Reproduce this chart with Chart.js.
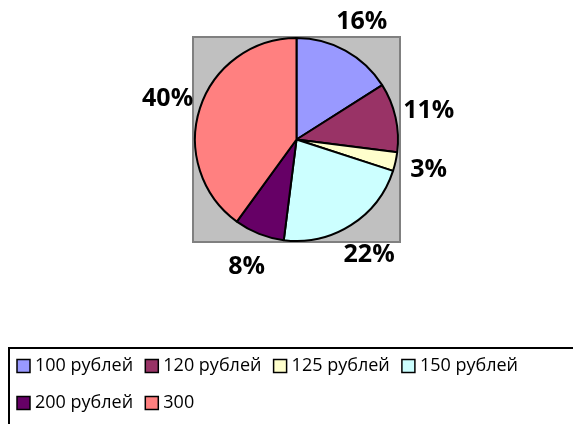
<!DOCTYPE html>
<html>
<head>
<meta charset="utf-8">
<script src="https://cdn.jsdelivr.net/npm/chart.js@4/dist/chart.umd.min.js"></script>
<style>
  html, body { margin: 0; padding: 0; background: #fff; }
  #wrap { width: 573px; height: 424px; position: relative; }
</style>
</head>
<body>
<div id="wrap"><canvas id="pie-chart" width="573" height="424"></canvas></div>
<script>
// Chart data
const categories = ['100 рублей', '120 рублей', '125 рублей', '150 рублей', '200 рублей', '300'];
const shares = [16, 11, 3, 22, 8, 40];
const sliceColors = ['#9999ff', '#993366', '#ffffcc', '#ccffff', '#660066', '#ff8080'];

// Gray plot area behind the pie
const plotAreaPlugin = {
  id: 'plotArea',
  beforeDraw(chart) {
    const ctx = chart.ctx;
    ctx.save();
    ctx.fillStyle = '#c0c0c0';
    ctx.fillRect(193, 37, 207, 205);
    ctx.strokeStyle = '#808080';
    ctx.lineWidth = 2;
    ctx.strokeRect(193, 37, 207, 205);
    ctx.restore();
  }
};

// Percent labels outside each slice
const percentLabels = {
  id: 'percentLabels',
  afterDatasetsDraw(chart) {
    const ctx = chart.ctx;
    const meta = chart.getDatasetMeta(0);
    ctx.save();
    ctx.font = 'bold 25px "Open Sans", "Liberation Sans", Arial, sans-serif';
    ctx.fillStyle = '#000';
    ctx.textAlign = 'center';
    ctx.textBaseline = 'middle';
    meta.data.forEach((arc, i) => {
      const p = arc.getProps(['x', 'y', 'startAngle', 'endAngle', 'outerRadius'], true);
      const mid = (p.startAngle + p.endAngle) / 2;
      const r = p.outerRadius + 34;
      ctx.fillText(shares[i] + '%', p.x + Math.cos(mid) * r, p.y + Math.sin(mid) * r + 1);
    });
    ctx.restore();
  }
};

// Boxed legend at the bottom, 4 columns
const boxLegend = {
  id: 'boxLegend',
  afterDraw(chart) {
    const ctx = chart.ctx;
    ctx.save();
    ctx.strokeStyle = '#000';
    ctx.lineWidth = 2;
    ctx.strokeRect(9, 348, 600, 120);

    ctx.font = '18px "Open Sans", "Liberation Sans", Arial, sans-serif';
    ctx.textBaseline = 'middle';
    ctx.textAlign = 'left';
    const colW = 128.3, rowH = 37;
    categories.forEach((name, i) => {
      const col = i % 4, row = Math.floor(i / 4);
      const x = 17 + col * colW;
      const y = 366 + row * rowH;
      ctx.fillStyle = sliceColors[i];
      ctx.fillRect(x, y - 6.5, 13, 13);
      ctx.lineWidth = 1.5;
      ctx.strokeStyle = '#000';
      ctx.strokeRect(x, y - 6.5, 13, 13);
      ctx.fillStyle = '#000';
      ctx.fillText(name, x + 18, y);
    });
    ctx.restore();
  }
};

new Chart(document.getElementById('pie-chart'), {
  type: 'pie',
  data: {
    labels: categories,
    datasets: [{
      data: shares,
      backgroundColor: sliceColors,
      borderColor: '#000',
      borderWidth: 2
    }]
  },
  options: {
    responsive: false,
    animation: false,
    layout: { padding: { left: 194, right: 174, top: 37, bottom: 182 } },
    plugins: {
      legend: { display: false },
      tooltip: { enabled: false }
    }
  },
  plugins: [plotAreaPlugin, percentLabels, boxLegend]
});
</script>
</body>
</html>
